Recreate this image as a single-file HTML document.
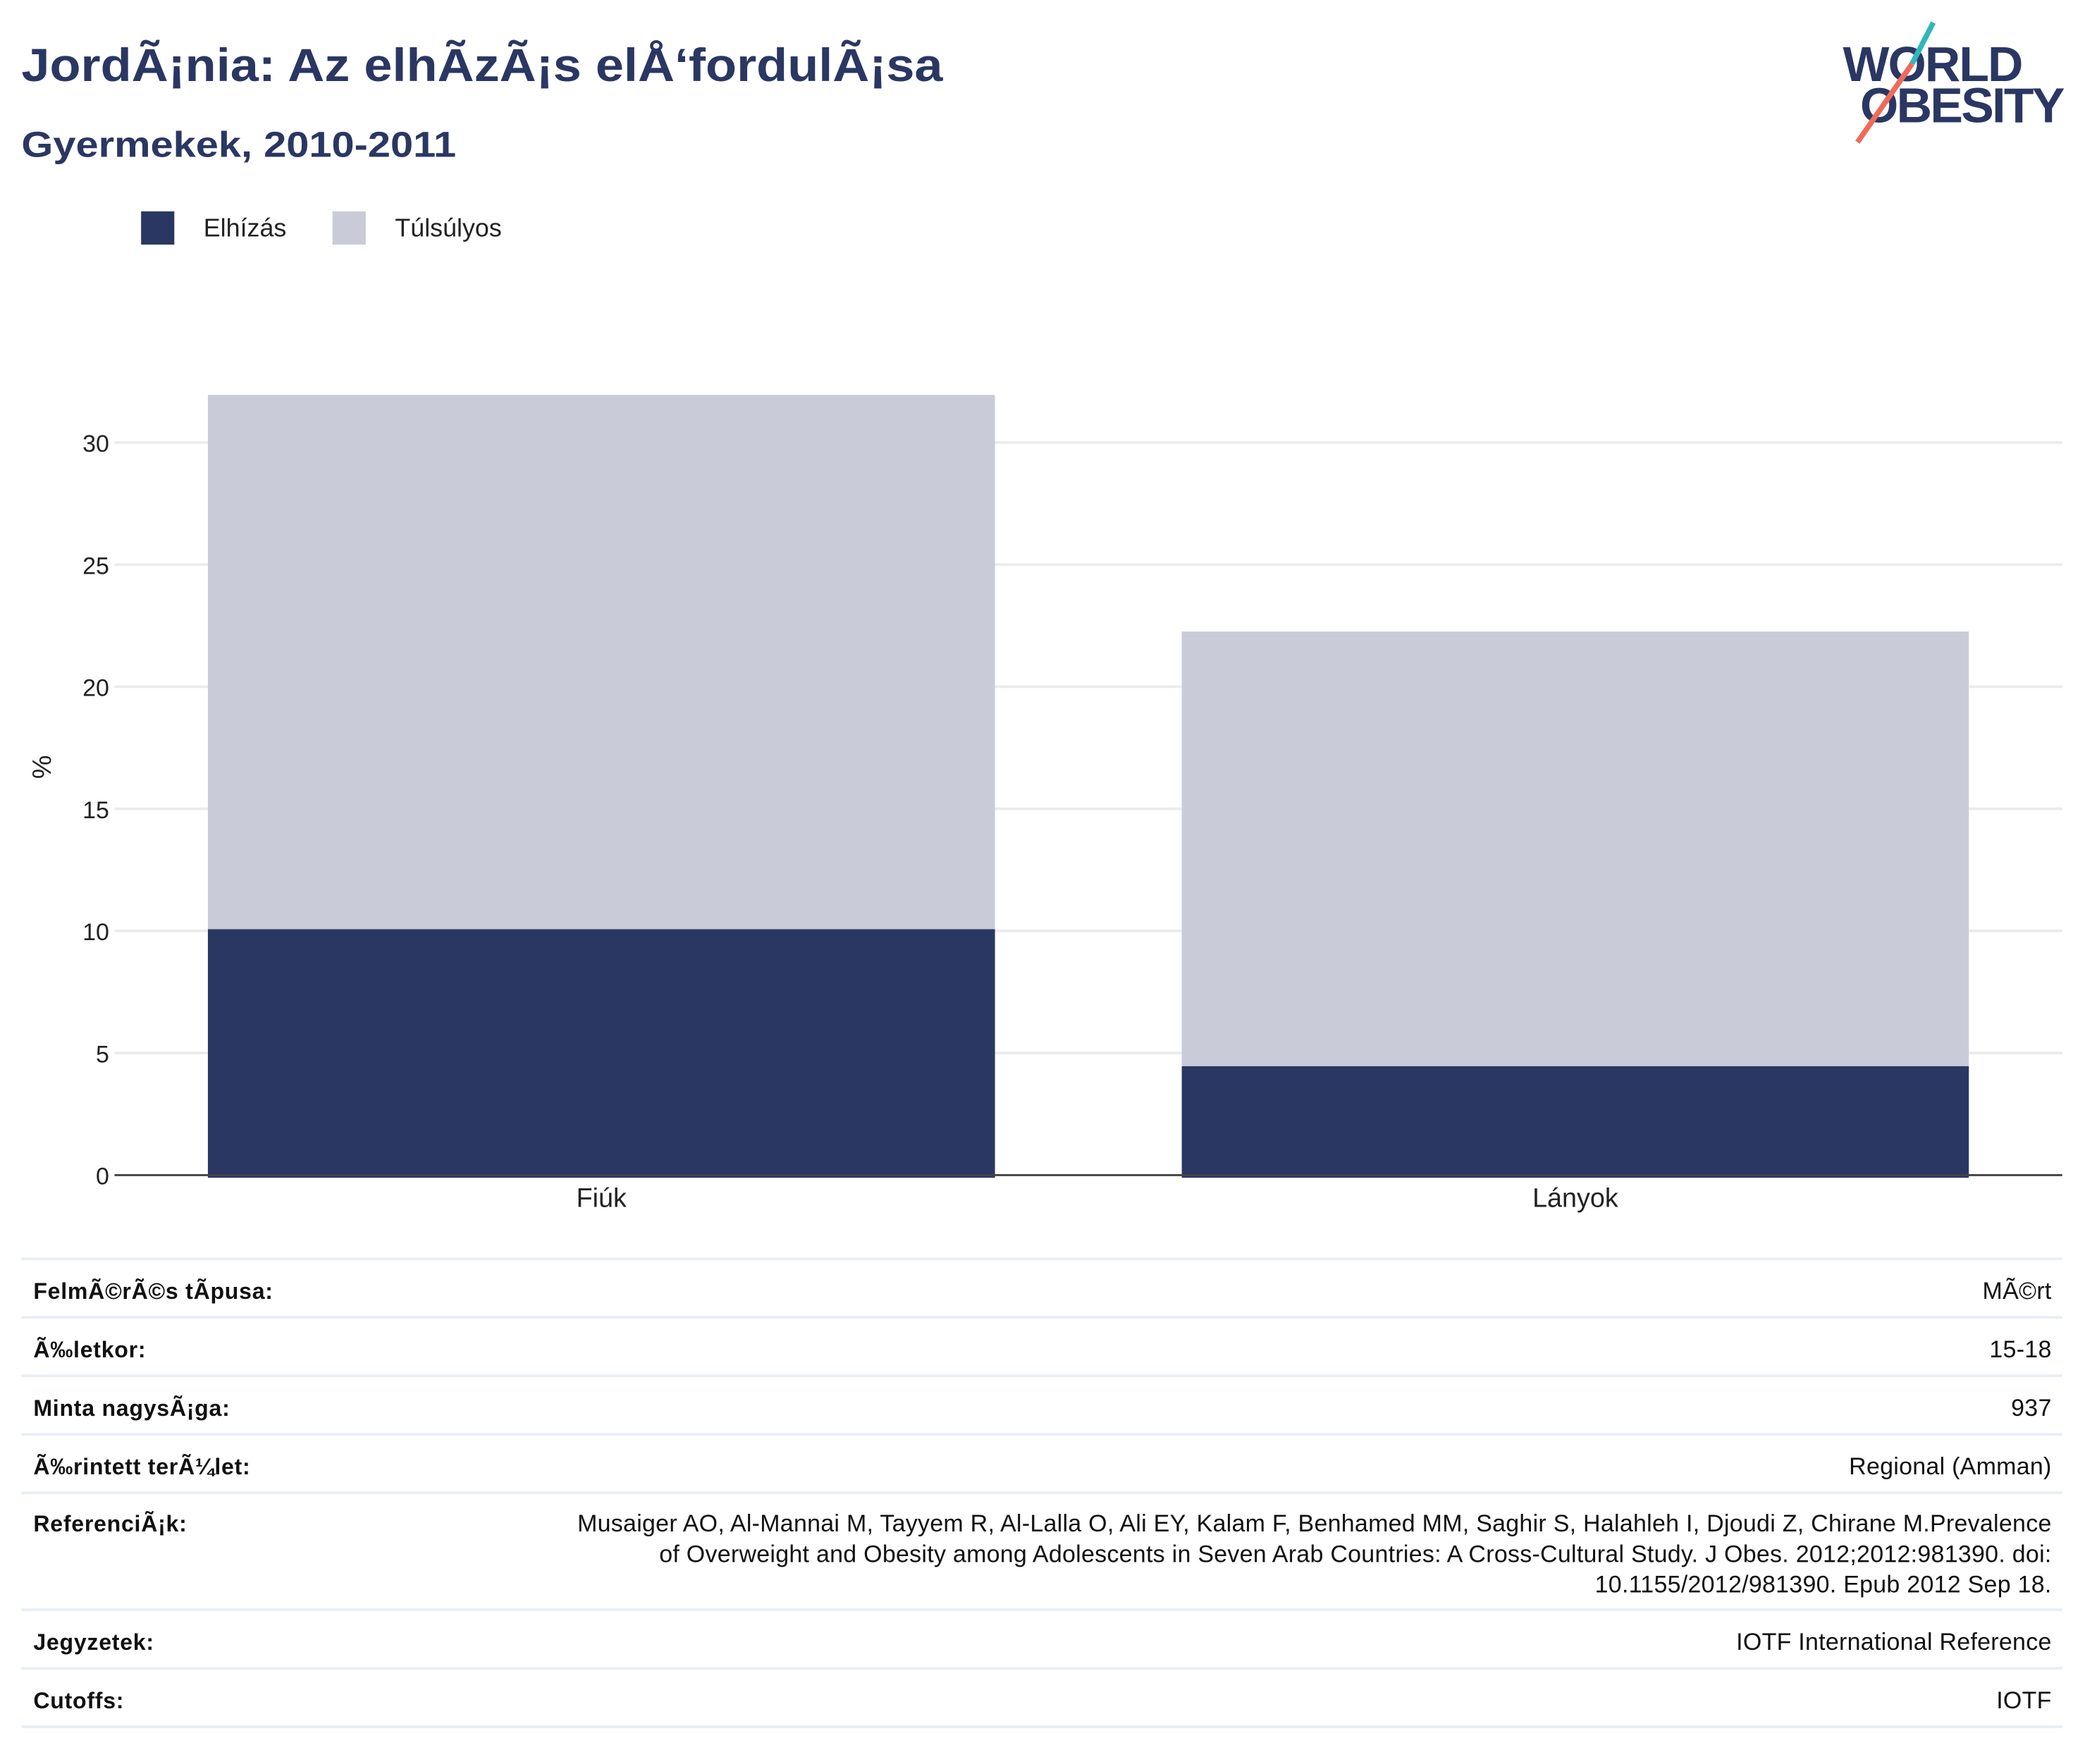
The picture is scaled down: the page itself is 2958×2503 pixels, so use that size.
<!DOCTYPE html>
<html><head><meta charset="utf-8"><style>
html,body{margin:0;padding:0;background:#fff;}
svg{display:block;font-family:"Liberation Sans",sans-serif;}
</style></head><body>
<svg id="chart" width="2958" height="2503" viewBox="0 0 1568 1327" xmlns="http://www.w3.org/2000/svg">
<rect width="1568" height="1327" fill="#fff"/>
<text x="16" y="61" font-size="35" font-weight="bold" fill="#2a3763" textLength="693" lengthAdjust="spacingAndGlyphs">JordÃ¡nia: Az elhÃzÃ¡s elÅ‘fordulÃ¡sa</text>
<text x="16" y="118" font-size="27" font-weight="bold" fill="#2a3763" textLength="327" lengthAdjust="spacingAndGlyphs">Gyermekek, 2010-2011</text>
<g>
<text x="1386" y="61" font-size="37" font-weight="bold" fill="#2a3763" letter-spacing="-1">WORLD</text>
<text x="1399" y="92" font-size="37" font-weight="bold" fill="#2a3763" letter-spacing="-1.4">OBESITY</text>
<line x1="1454" y1="17" x2="1438" y2="48" stroke="#2fb8b8" stroke-width="4"/>
<line x1="1438" y1="48" x2="1397" y2="107" stroke="#ee6b5a" stroke-width="4"/>
</g>
<g>
<rect x="106" y="159" width="25" height="25" fill="#2a3763"/>
<text x="153" y="178" font-size="19" fill="#222">Elhízás</text>
<rect x="250" y="159" width="25" height="25" fill="#c9ccd8"/>
<text x="297" y="178" font-size="19" fill="#222">Túlsúlyos</text>
</g>
<g id="grid"></g>
<g id="bars"></g>
<g id="axes"></g>
<text transform="translate(38,577) rotate(-90)" text-anchor="middle" font-size="20" fill="#222">%</text>
<g id="table"></g>
</svg>
<script>
const categories = ["Fiúk", "Lányok"];
const obesity = [10.07, 4.46];
const overweight = [21.88, 17.8];
const yTicks = [0, 5, 10, 15, 20, 25, 30];

const NS = "http://www.w3.org/2000/svg";
const y0 = 884, pxPerUnit = 18.37, plotL = 86, plotR = 1551;
const yScale = v => y0 - v * pxPerUnit;
const bandW = (plotR - plotL) / categories.length;
const barW = 592;
const xCenter = i => plotL + bandW * (i + 0.5);
function mk(tag, attrs, parent) {
  const e = document.createElementNS(NS, tag);
  for (const k in attrs) e.setAttribute(k, attrs[k]);
  parent.appendChild(e);
  return e;
}
const grid = document.getElementById('grid');
const axes = document.getElementById('axes');
const bars = document.getElementById('bars');
yTicks.forEach(t => {
  if (t > 0) {
    const l = mk('line', {x1: plotL, x2: plotR, y1: yScale(t), y2: yScale(t), stroke: '#ebebeb', 'stroke-width': 2}, grid);
    
    
  }
  const tx = mk('text', {x: 82, y: yScale(t) + 7, 'text-anchor': 'end', 'font-size': 18, fill: '#222'}, axes);
  tx.textContent = t;
  
  
});
categories.forEach((c, i) => {
  const cx = xCenter(i);
  const total = obesity[i] + overweight[i];
  const r1 = mk('rect', {x: cx - barW / 2, y: yScale(total), width: barW, height: yScale(obesity[i]) - yScale(total), fill: '#c9ccd8'}, bars);
  
  
  const r2 = mk('rect', {x: cx - barW / 2, y: yScale(obesity[i]), width: barW, height: yScale(0) - yScale(obesity[i]) + 2, fill: '#2a3763'}, bars);
  
  
  const lbl = mk('text', {x: cx, y: 908, 'text-anchor': 'middle', 'font-size': 20, fill: '#222'}, axes);
  lbl.textContent = c;
  
  
});
const zl = mk('line', {x1: plotL, x2: plotR, y1: y0, y2: y0, stroke: '#444', 'stroke-width': 1.5}, axes);



const table = document.getElementById('table');
const rowLines = [947, 991, 1035, 1079, 1123, 1211, 1255, 1299];
rowLines.forEach((y, i) => {
  const l = mk('line', {x1: 16, x2: 1551, y1: y, y2: y, stroke: '#e8eef6', 'stroke-width': 2}, table);
  
  
});
const rows = [
  ["FelmÃ©rÃ©s tÃpusa:", ["MÃ©rt"], 977],
  ["Ã‰letkor:", ["15-18"], 1021],
  ["Minta nagysÃ¡ga:", ["937"], 1065],
  ["Ã‰rintett terÃ¼let:", ["Regional (Amman)"], 1109],
  ["ReferenciÃ¡k:", ["Musaiger AO, Al-Mannai M, Tayyem R, Al-Lalla O, Ali EY, Kalam F, Benhamed MM, Saghir S, Halahleh I, Djoudi Z, Chirane M.Prevalence", "of Overweight and Obesity among Adolescents in Seven Arab Countries: A Cross-Cultural Study. J Obes. 2012;2012:981390. doi:", "10.1155/2012/981390. Epub 2012 Sep 18."], 1152],
  ["Jegyzetek:", ["IOTF International Reference"], 1241],
  ["Cutoffs:", ["IOTF"], 1285]
];
rows.forEach((r, i) => {
  const k = mk('text', {x: 25, y: r[2], 'font-size': 17, 'font-weight': 'bold', fill: '#111', 'letter-spacing': '0.4'}, table);
  k.textContent = r[0];
  
  
  r[1].forEach((line, j) => {
    const v = mk('text', {x: 1543, y: r[2] + j * 23, 'text-anchor': 'end', 'font-size': 18, fill: '#111', 'letter-spacing': '0.15'}, table);
    v.textContent = line;
    
    
  });
});
</script>
</body></html>
